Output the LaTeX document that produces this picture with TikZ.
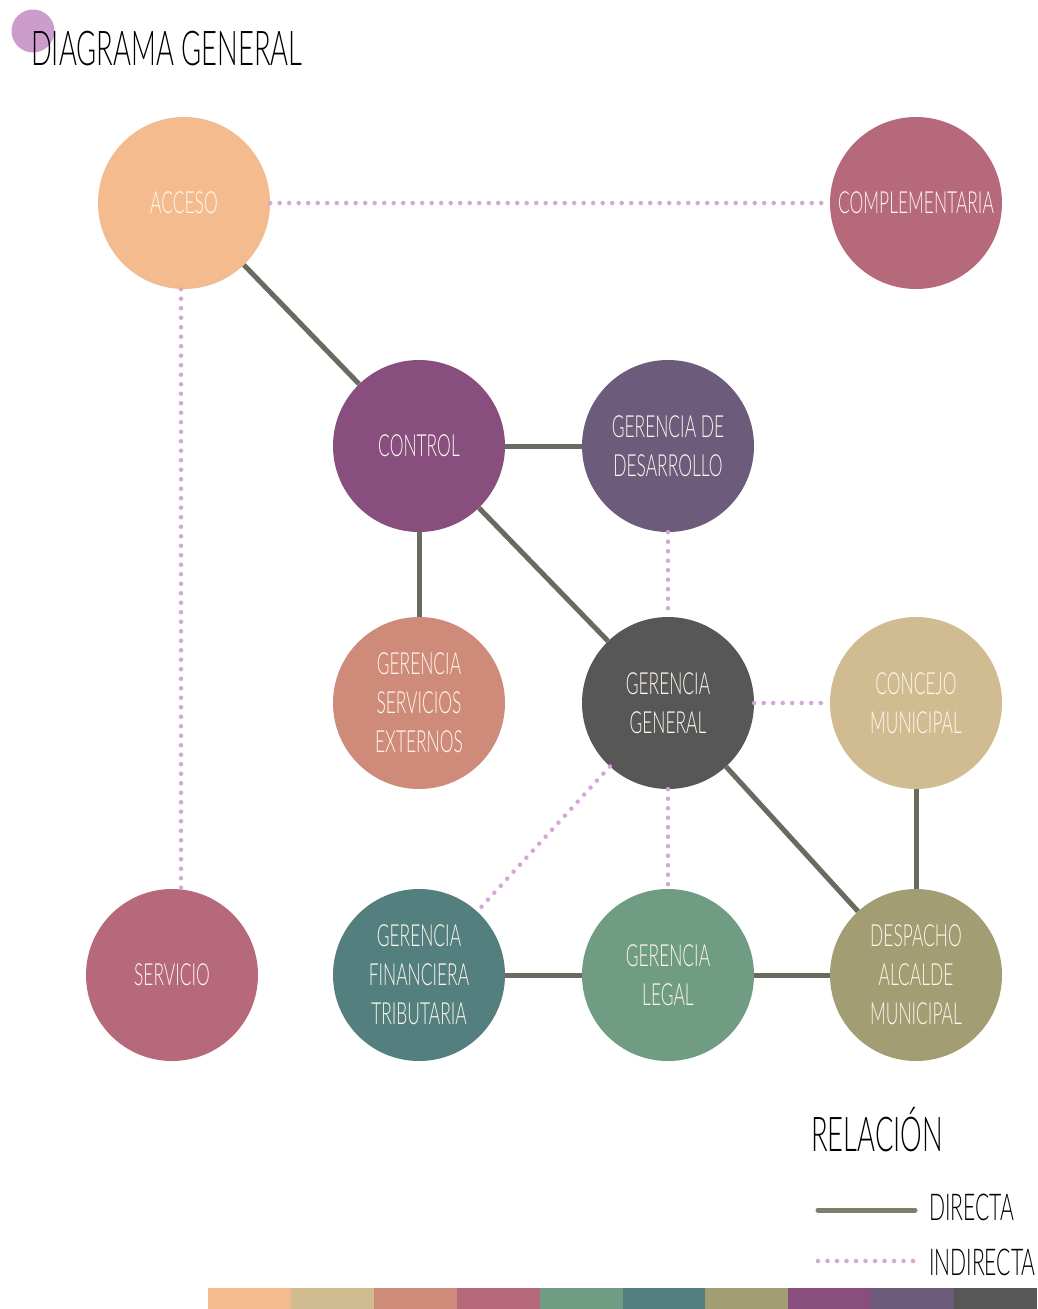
\documentclass[tikz,border=0pt]{standalone}
\usepackage{fontspec}
\IfFontExistsTF{Lato Light}
  {\setmainfont{Lato Light}[FakeStretch=0.57]}
  {\IfFontExistsTF{Fira Sans Light}
     {\setmainfont{Fira Sans Light}[FakeStretch=0.55]}
     {\setmainfont{Lato}[FakeStretch=0.56]}}
\definecolor{cPeach}{HTML}{F4BC8E}
\definecolor{cTan}{HTML}{D1BC92}
\definecolor{cSalmon}{HTML}{CF8B7A}
\definecolor{cRose}{HTML}{B5697B}
\definecolor{cGreen}{HTML}{6F9C83}
\definecolor{cTeal}{HTML}{53807E}
\definecolor{cOlive}{HTML}{A29D72}
\definecolor{cPurple}{HTML}{884F7E}
\definecolor{cMauve}{HTML}{6C5B7B}
\definecolor{cDark}{HTML}{575757}
\definecolor{cLine}{HTML}{6B6A60}
\definecolor{cLegLine}{HTML}{7E7E6C}
\definecolor{cDot}{HTML}{D6A6D6}
\definecolor{cTitleDot}{HTML}{CC9CCB}
\definecolor{cText}{HTML}{FFF8EE}
\begin{document}
\begin{tikzpicture}[x=1pt,y=-1pt,
  bub/.style={circle, minimum size=172pt, inner sep=0pt, text=cText, align=center,
    font=\fontsize{30.5}{39}\selectfont},
  direct/.style={line width=5pt, draw=cLine},
  indirect/.style={line width=4.5pt, draw=cDot, dash pattern=on 0pt off 9.5pt, line cap=round},
  lbl/.style={inner sep=0pt, anchor=base west, text=black}]
\useasboundingbox (0,0) rectangle (1037,1309);
\fill[white] (0,0) rectangle (1037,1309);

% title
\fill[cTitleDot] (33,31) circle (21.5);
\node[lbl, font=\fontsize{48}{52}\selectfont] (title) at (31,65) {DIAGRAMA GENERAL};

% nodes
\node[bub, fill=cPeach]  (acc)  at (184,203) {ACCESO};
\node[bub, fill=cRose]   (comp) at (916,203) {COMPLEMENTARIA};
\node[bub, fill=cPurple] (ctrl) at (419,446) {CONTROL};
\node[bub, fill=cMauve]  (des)  at (668,446) {GERENCIA DE\\DESARROLLO};
\node[bub, fill=cSalmon] (ext)  at (419,703) {GERENCIA\\SERVICIOS\\EXTERNOS};
\node[bub, fill=cDark]   (gen)  at (668,703) {GERENCIA\\GENERAL};
\node[bub, fill=cTan]    (conc) at (916,703) {CONCEJO\\MUNICIPAL};
\node[bub, fill=cRose]   (serv) at (172,975) {SERVICIO};
\node[bub, fill=cTeal]   (fin)  at (419,975) {GERENCIA\\FINANCIERA\\TRIBUTARIA};
\node[bub, fill=cGreen]  (leg)  at (668,975) {GERENCIA\\LEGAL};
\node[bub, fill=cOlive]  (desp) at (916,975) {DESPACHO\\ALCALDE\\MUNICIPAL};

% direct connectors
\draw[direct] (acc) -- (ctrl);
\draw[direct] (ctrl) -- (des);
\draw[direct] (ctrl) -- (ext);
\draw[direct] (ctrl) -- (gen);
\draw[direct] (gen) -- (desp);
\draw[direct] (conc) -- (desp);
\draw[direct] (fin) -- (leg);
\draw[direct] (leg) -- (desp);

% indirect connectors
\draw[indirect] (acc) -- (comp);
\draw[indirect] ([xshift=-3pt]acc.south) -- ([xshift=9pt]serv.north);
\draw[indirect] (des) -- (gen);
\draw[indirect] (gen) -- (conc);
\draw[indirect] (gen) -- (fin);
\draw[indirect] (gen) -- (leg);

% legend
\node[lbl, font=\fontsize{48}{52}\selectfont] (rel) at (811,1151) {RELACIÓN};
\coordinate (d1) at (818,1210);
\coordinate (d2) at (915,1210);
\draw[line width=5pt, draw=cLegLine, line cap=round] (d1) -- (d2);
\node[lbl, font=\fontsize{37}{40}\selectfont] (dir) at (929,1220) {DIRECTA};
\coordinate (i1) at (818,1261);
\coordinate (i2) at (916,1261);
\draw[indirect] (i1) -- (i2);
\node[lbl, font=\fontsize{37}{40}\selectfont] (ind) at (929,1275) {INDIRECTA};

% colour bar
\foreach \c [count=\i from 0] in {cPeach,cTan,cSalmon,cRose,cGreen,cTeal,cOlive,cPurple,cMauve,cDark}
  \fill[\c] (208+\i*82.9,1288) rectangle (208+\i*82.9+83.2,1309);
\end{tikzpicture}
\end{document}
